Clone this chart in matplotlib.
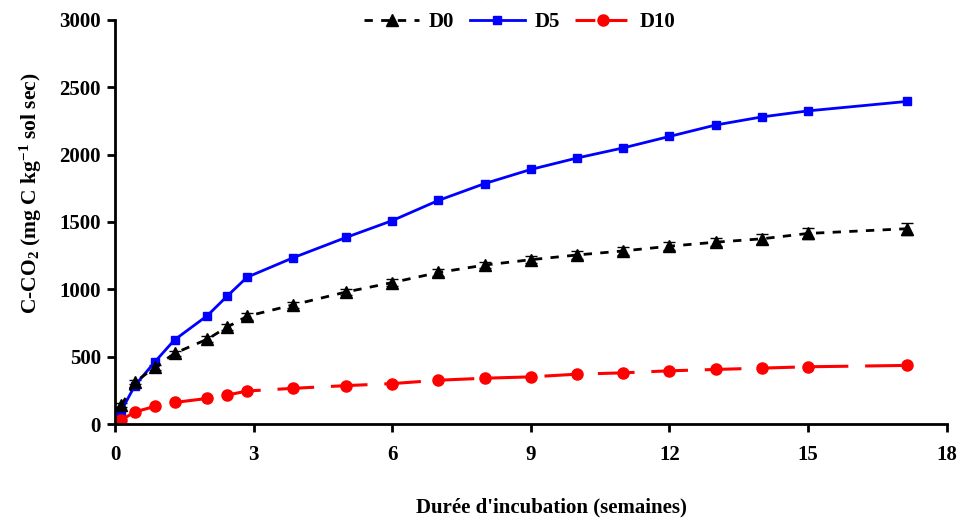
#!/usr/bin/env python3

import matplotlib
matplotlib.use("Agg")
import matplotlib.pyplot as plt
from matplotlib.lines import Line2D

# weeks of incubation
weeks = [0.14, 0.43, 0.86, 1.29, 2.0, 2.43, 2.86, 3.86, 5, 6, 7, 8, 9, 10, 11, 12, 13, 14, 15, 17.14]

d0 = [140, 310, 420, 525, 630, 720, 800, 885, 980, 1050, 1125, 1180, 1220, 1255,
      1285, 1320, 1350, 1375, 1415, 1450]
d0_err = [15, 15, 20, 20, 20, 25, 25, 20, 25, 25, 25, 25, 25, 30, 30, 30, 30, 35, 40, 45]
d5 = [100, 285, 460, 625, 805, 950, 1090, 1235, 1385, 1510, 1660, 1785, 1890, 1975,
      2050, 2135, 2220, 2280, 2325, 2395]
d10 = [30, 90, 130, 160, 190, 215, 245, 265, 285, 300, 325, 340, 350, 370,
       380, 395, 405, 415, 425, 435]


def main():
    plt.rcParams["font.family"] = ["Liberation Serif", "DejaVu Serif"]
    plt.rcParams["font.weight"] = "bold"
    plt.rcParams["mathtext.fontset"] = "custom"
    plt.rcParams["mathtext.rm"] = "Liberation Serif:bold"
    plt.rcParams["mathtext.bf"] = "Liberation Serif:bold"
    plt.rcParams["mathtext.it"] = "Liberation Serif:bold"

    fig = plt.figure(figsize=(9.62, 5.2), dpi=100)
    ax = fig.add_axes([0.1195, 0.1846, 0.8645, 0.777])

    h0 = ax.errorbar(weeks, d0, yerr=d0_err, color="black", ls=(0, (3, 3)), lw=2,
                     marker="^", ms=8, capsize=4, elinewidth=1, label="D0")
    h5, = ax.plot(weeks, d5, color="#0000FF", ls="-", lw=2, marker="s", ms=6, label="D5")
    h10, = ax.plot(weeks, d10, color="#FF0000", ls=(0, (12, 5.5)), lw=2.2, marker="o", ms=8,
                   label="D10")

    ax.set_xlim(0, 18)
    ax.set_ylim(0, 3000)
    ax.set_xticks(range(0, 19, 3))
    ax.set_yticks(range(0, 3001, 500))

    for side in ["top", "right"]:
        ax.spines[side].set_visible(False)
    for side in ["left", "bottom"]:
        ax.spines[side].set_linewidth(2)
    ax.tick_params(direction="out", length=6, width=2, labelsize=15, pad=4)
    ax.tick_params(axis="x", pad=9)

    ax.set_xlabel("Durée d'incubation (semaines)", fontsize=15, fontweight="bold")
    ax.xaxis.set_label_coords(0.525, -0.183)
    ax.set_ylabel(r"C-CO$_{\mathrm{2}}$ (mg C kg$^{\mathrm{-1}}$ sol sec)", fontsize=15.5,
                  fontweight="bold")
    ax.yaxis.set_label_coords(-0.085, 0.572)

    # legend-only handle so the red dashes sit on both sides of the dot
    leg10 = Line2D([], [], color="#FF0000", ls=(1, (7.5, 3)), lw=2.2, marker="o", ms=8)
    ax.legend([h0[0], h5, leg10], ["D0", "D5", "D10"], loc="center",
              bbox_to_anchor=(0.487, 0.995), ncol=3, frameon=False, fontsize=15,
              handlelength=2.65, handletextpad=0.45, columnspacing=0.75)

    fig.savefig("out.png", dpi=100)


if __name__ == "__main__":
    main()
